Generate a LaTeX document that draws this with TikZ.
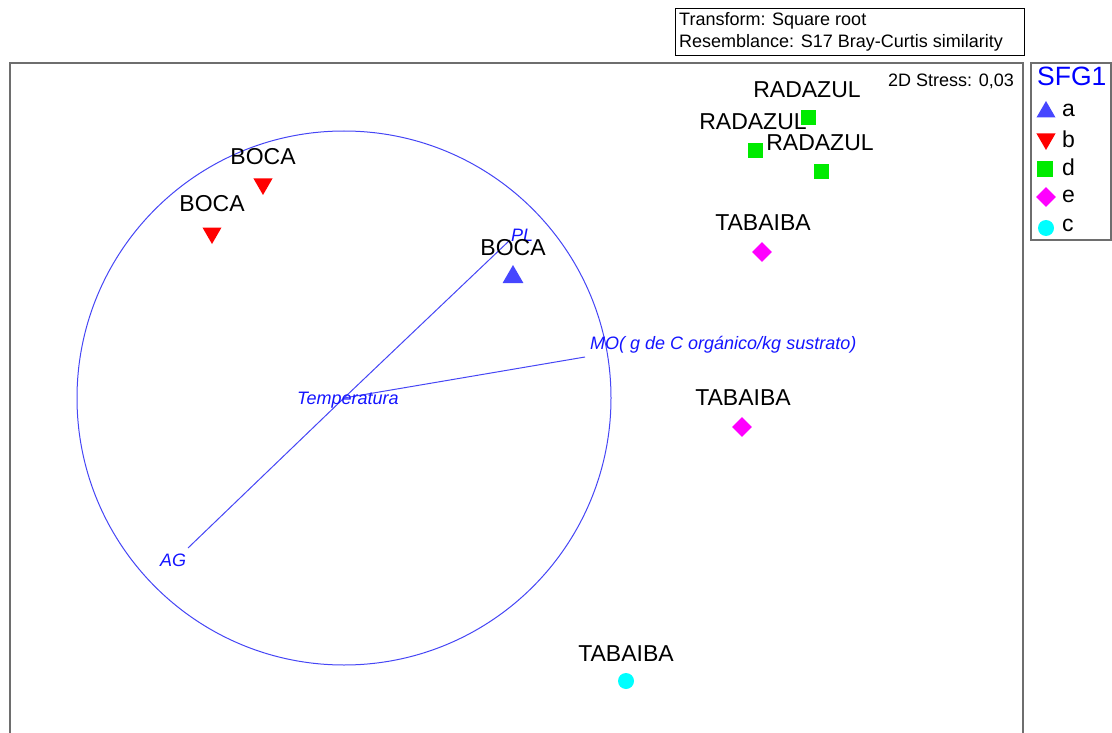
\documentclass[tikz,border=0pt]{standalone}
\usepackage{fontspec}
\setmainfont{Liberation Sans}
\usetikzlibrary{shapes.geometric}

\definecolor{vecblue}{RGB}{70,70,245}
\definecolor{lblblue}{RGB}{20,20,255}
\definecolor{grpa}{RGB}{70,70,255}
\definecolor{grpb}{RGB}{255,0,0}
\definecolor{grpd}{RGB}{0,235,0}
\definecolor{grpe}{RGB}{255,0,255}
\definecolor{grpc}{RGB}{0,255,255}
\definecolor{framegray}{RGB}{110,110,110}

\tikzset{
  sitelbl/.style={font=\fontsize{23}{26}\selectfont, inner sep=0pt},
  notelbl/.style={font=\fontsize{18}{21}\selectfont, inner sep=0pt, anchor=base west},
  veclbl/.style={font=\fontsize{18}{21}\selectfont\itshape, text=lblblue, inner sep=0pt, anchor=base west},
  mka/.style={regular polygon, regular polygon sides=3, fill=grpa, inner sep=0pt, minimum size=24pt},
  mkb/.style={regular polygon, regular polygon sides=3, shape border rotate=180, fill=grpb, inner sep=0pt, minimum size=22pt},
  mkd/.style={rectangle, fill=grpd, inner sep=0pt, minimum size=15pt},
  mke/.style={diamond, fill=grpe, inner sep=0pt, minimum size=20pt},
  mkc/.style={circle, fill=grpc, inner sep=0pt, minimum size=16pt},
}

\begin{document}
\begin{tikzpicture}[x=1pt, y=-1pt]
            \useasboundingbox (0, 0) rectangle (1112, 733);
            % frames
            \draw[framegray, line width=1.3pt] (10, 733) -- (10, 63) -- (1023, 63) -- (1023, 733);
            \draw[black, line width=0.9pt] (675, 8) rectangle (1024, 55);
            \draw[framegray, line width=1.3pt] (1031, 63) rectangle (1111, 240);
            \node[notelbl] (trf) at (679, 26) {Transform: Square root};
            \node[notelbl] (rsm) at (679, 48) {Resemblance: S17 Bray-Curtis similarity};
            \node[notelbl, anchor=base east] (strs) at (1014, 87) {2D Stress: 0,03};

            % vectors
            \coordinate (ctr) at (344, 398);
            \coordinate (plend) at (510, 240);
            \coordinate (agend) at (188, 548);
            \coordinate (moend) at (585, 357);
            \draw[vecblue, line width=1pt] (ctr) circle (267pt);
            \draw[vecblue, line width=1pt] (ctr) -- (plend);
            \draw[vecblue, line width=1pt] (ctr) -- (agend);
            \draw[vecblue, line width=1pt] (ctr) -- (moend);
            \node[veclbl] (temp) at (297, 404) {Temperatura};
            \node[veclbl] (mo) at (590, 349) {MO( g de C orgánico/kg sustrato)};
            \node[veclbl] (ag) at (160, 566) {AG};

            % samples
            \node[mkb] (b1) at (263, 184) {};
            \node[mkb] (b2) at (212, 233) {};
            \node[mka] (a1) at (513, 277) {};
            \node[mkd] (d1) at (808, 118) {};
            \node[mkd] (d2) at (755, 151) {};
            \node[mkd] (d3) at (821, 172) {};
            \node[mke] (e1) at (762, 252) {};
            \node[mke] (e2) at (742, 427) {};
            \node[mkc] (c1) at (626, 681) {};

            \node[sitelbl] (b1l) at (263, 157) {BOCA};
            \node[sitelbl] (b2l) at (212, 204) {BOCA};
            \node[veclbl] (pl) at (511, 241) {PL};
            \node[sitelbl] (a1l) at (513, 248) {BOCA};
            \node[sitelbl] (d1l) at (807, 90) {RADAZUL};
            \node[sitelbl] (d2l) at (753, 122) {RADAZUL};
            \node[sitelbl] (d3l) at (820, 143) {RADAZUL};
            \node[sitelbl] (e1l) at (763, 223) {TABAIBA};
            \node[sitelbl] (e2l) at (743, 398) {TABAIBA};
            \node[sitelbl] (c1l) at (626, 654) {TABAIBA};

            % legend
            \node[font=\fontsize{26.5}{30}\selectfont, text=blue, inner sep=0pt, anchor=base west] (sfg) at (1037, 86) {SFG1};
            \node[mka, minimum size=22pt] (la) at (1046, 112) {};
            \node[mkb, minimum size=22pt] (lb) at (1046, 139) {};
            \node[mkd, minimum size=16pt] (ld) at (1045, 169) {};
            \node[mke, minimum size=20pt] (le) at (1046, 197) {};
            \node[mkc, minimum size=16pt] (lc) at (1046, 228) {};
            \node[sitelbl, anchor=west] (lat) at (1062, 110) {a};
            \node[sitelbl, anchor=west] (lbt) at (1062, 139) {b};
            \node[sitelbl, anchor=west] (ldt) at (1062, 167) {d};
            \node[sitelbl, anchor=west] (let) at (1062, 196) {e};
            \node[sitelbl, anchor=west] (lct) at (1062, 225) {c};
\end{tikzpicture}
\end{document}
